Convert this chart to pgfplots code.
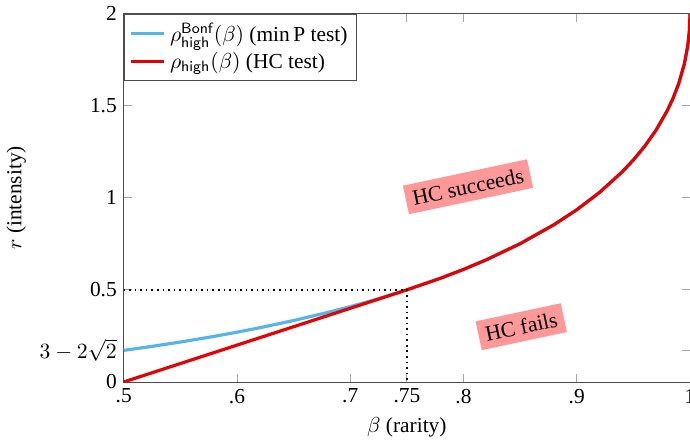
\documentclass[border=0pt]{standalone}
\usepackage{pgfplots}
\pgfplotsset{compat=1.18}
\usepackage{fontspec}
\setmainfont{Liberation Serif}
\definecolor{skyb}{RGB}{86,180,233}
\definecolor{hcred}{RGB}{228,0,0}
\definecolor{pinkbox}{RGB}{255,153,153}
\begin{document}
\begin{tikzpicture}[trim axis right]
\begin{axis}[
  scale only axis,
  width=286pt, height=186pt,
  xmin=0.5, xmax=1, ymin=0, ymax=2,
  xtick={0.5,0.6,0.7,0.75,0.8,0.9,1},
  xticklabels={.5,.6,.7,.75,.8,.9,1},
  ytick={0,0.171573,0.5,1,1.5,2},
  yticklabels={0,$3-2\sqrt{2}$,0.5,1,1.5,2},
  /pgf/number format/assume math mode=true,
  axis line style={black!70},
  every tick/.style={gray!70},
  xlabel={$\beta$ (rarity)},
  ylabel={$r$ (intensity)},
  legend style={at={(0,1)}, anchor=north west, draw=black!70, font=\fontsize{10.8}{13}\selectfont, inner sep=2.5pt},
  legend cell align=left,
  label style={font=\fontsize{10.8}{13}\selectfont},
  tick label style={font=\fontsize{10.8}{13}\selectfont},
]
\addplot[skyb, line width=1.6pt] coordinates {
(0.5,0.171573)(0.52,0.188718)(0.55,0.216718)(0.58,0.247704)(0.6,0.270178)
(0.62,0.294234)(0.65,0.333568)(0.68,0.377258)(0.7,0.409110)(0.72,0.443400)
(0.75,0.5)(0.78,0.563832)(0.8,0.611146)(0.82,0.662944)(0.85,0.750808)
(0.88,0.854360)(0.9,0.935089)(0.92,1.028628)(0.94,1.140204)(0.95,1.205573)
(0.96,1.28)(0.97,1.367180)(0.98,1.474314)(0.985,1.540104)(0.99,1.62)
(0.995,1.727157)(0.998,1.825116)(0.9995,1.911556)(1,2)};
\addlegendentry{$\rho^{\mathsf{Bonf}}_{\mathsf{high}}(\beta)$ ($\min\mathrm{P}$ test)}
\addplot[hcred, line width=1.6pt] coordinates {
(0.5,0)(0.75,0.5)(0.78,0.563832)(0.8,0.611146)(0.82,0.662944)(0.85,0.750808)
(0.88,0.854360)(0.9,0.935089)(0.92,1.028628)(0.94,1.140204)(0.95,1.205573)
(0.96,1.28)(0.97,1.367180)(0.98,1.474314)(0.985,1.540104)(0.99,1.62)
(0.995,1.727157)(0.998,1.825116)(0.9995,1.911556)(1,2)};
\addlegendentry{$\rho_{\mathsf{high}}(\beta)$ (HC test)}
\addplot[black, dotted, thick, forget plot] coordinates {(0.5,0.5)(0.75,0.5)(0.75,0)};
\node[fill=pinkbox, rotate=12, inner sep=3.5pt, font=\fontsize{11}{13}\selectfont] at (axis cs:0.804,1.06) {HC succeeds};
\node[fill=pinkbox, rotate=12, inner sep=3.5pt, font=\fontsize{11}{13}\selectfont] at (axis cs:0.851,0.30) {HC fails};
\end{axis}
\end{tikzpicture}
\end{document}
